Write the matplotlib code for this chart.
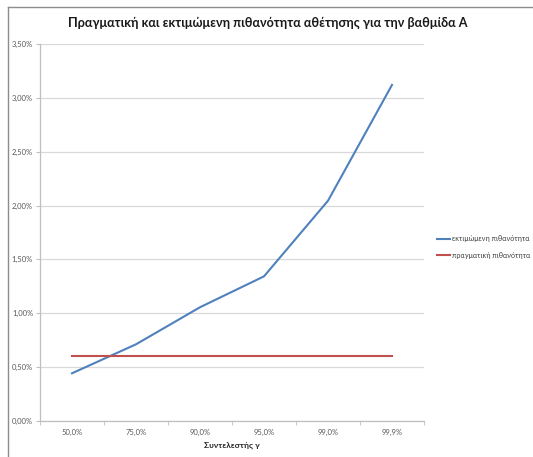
import matplotlib
matplotlib.use("Agg")
import matplotlib.pyplot as plt
from matplotlib.ticker import FuncFormatter
from matplotlib.lines import Line2D

plt.rcParams['font.family'] = ['Lato', 'DejaVu Sans']

# Data
categories = ["50,0%", "75,0%", "90,0%", "95,0%", "99,0%", "99,9%"]
estimated = [0.443, 0.712, 1.056, 1.343, 2.045, 3.12]   # percent
actual = [0.60, 0.60, 0.60, 0.60, 0.60, 0.60]             # percent
y_ticks = [0.0, 0.5, 1.0, 1.5, 2.0, 2.5, 3.0, 3.5]

title = "Πραγματική και εκτιμώμενη πιθανότητα αθέτησης για την βαθμίδα A"
xlabel = "Συντελεστής γ"
label_est = "εκτιμώμενη πιθανότητα"
label_act = "πραγματική πιθανότητα"

W, H = 533, 457
fig = plt.figure(figsize=(W / 100, H / 100), dpi=100)

# chart frame lines (top and left)
fig.add_artist(Line2D([8 / W, 1.0], [1 - 7 / H, 1 - 7 / H], color="#8c8c8c", lw=1.0))
fig.add_artist(Line2D([8 / W, 8 / W], [0.0, 1 - 7 / H], color="#8c8c8c", lw=1.0))

ax = fig.add_axes([40 / W, 1 - 421 / H, (424 - 40) / W, (421 - 44) / H])

x = range(len(categories))
ax.plot(x, estimated, color="#4F81BD", lw=1.5, solid_joinstyle="round")
ax.plot(x, actual, color="#C0504D", lw=1.5)

ax.set_xlim(-0.5, len(categories) - 0.5)
ax.set_ylim(0, 3.5)
ax.set_yticks(y_ticks)
ax.yaxis.set_major_formatter(FuncFormatter(lambda v, p: f"{v:.2f}".replace(".", ",") + "%"))
ax.set_xticks(list(x))
ax.set_xticklabels(categories)
ax.set_xticks([i - 0.5 for i in range(len(categories) + 1)], minor=True)

ax.grid(axis="y", color="#d9d9d9", lw=0.9)
ax.set_axisbelow(True)
for s in ["top", "right"]:
    ax.spines[s].set_visible(False)
for s in ["left", "bottom"]:
    ax.spines[s].set_color("#bfbfbf")
    ax.spines[s].set_linewidth(0.9)

ax.tick_params(axis="y", length=3, color="#bfbfbf", labelsize=5.5, labelcolor="#595959", pad=2)
ax.tick_params(axis="x", which="major", length=0, labelsize=5.5, labelcolor="#595959", pad=6)
ax.tick_params(axis="x", which="minor", length=3, color="#bfbfbf")

ax.set_xlabel(xlabel, fontsize=6, fontweight="bold", color="#262626", labelpad=4)

fig.text(268 / W, 1 - 23 / H, title, ha="center", va="center", fontsize=9.1,
         fontweight="bold", color="#1a1a1a")

# legend
leg_handles = [Line2D([], [], color="#4F81BD", lw=1.5), Line2D([], [], color="#C0504D", lw=1.5)]
fig.legend(leg_handles, [label_est, label_act], loc="center left",
           bbox_to_anchor=(430 / W, 1 - 247 / H), frameon=False, fontsize=5.2,
           handlelength=1.8, handletextpad=0.3, labelspacing=1.3, labelcolor="#404040")

fig.savefig("out.png", dpi=100)
